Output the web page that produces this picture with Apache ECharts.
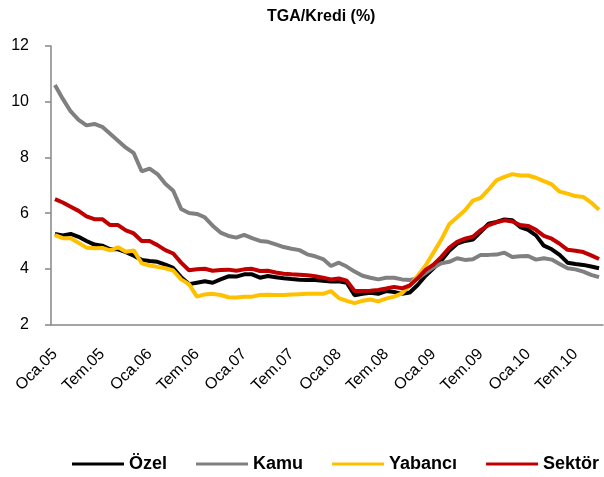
<!DOCTYPE html>
<html>
<head>
<meta charset="utf-8">
<script src="https://cdn.jsdelivr.net/npm/echarts@6/dist/echarts.min.js"></script>
<style>
html,body{margin:0;padding:0;background:#fff;}
#chart{width:604px;height:477px;}
</style>
</head>
<body>
<div id="chart"></div>
<script>
var categories = [
 'Oca.05','Şub.05','Mar.05','Nis.05','May.05','Haz.05','Tem.05','Ağu.05','Eyl.05','Eki.05','Kas.05','Ara.05',
 'Oca.06','Şub.06','Mar.06','Nis.06','May.06','Haz.06','Tem.06','Ağu.06','Eyl.06','Eki.06','Kas.06','Ara.06',
 'Oca.07','Şub.07','Mar.07','Nis.07','May.07','Haz.07','Tem.07','Ağu.07','Eyl.07','Eki.07','Kas.07','Ara.07',
 'Oca.08','Şub.08','Mar.08','Nis.08','May.08','Haz.08','Tem.08','Ağu.08','Eyl.08','Eki.08','Kas.08','Ara.08',
 'Oca.09','Şub.09','Mar.09','Nis.09','May.09','Haz.09','Tem.09','Ağu.09','Eyl.09','Eki.09','Kas.09','Ara.09',
 'Oca.10','Şub.10','Mar.10','Nis.10','May.10','Haz.10','Tem.10','Ağu.10','Eyl.10','Eki.10'
];
var ozel = [
 5.25,5.20,5.25,5.15,5.00,4.87,4.83,4.70,4.70,4.60,4.47,4.32,
 4.28,4.25,4.15,4.03,3.70,3.45,3.50,3.55,3.50,3.62,3.73,3.72,
 3.80,3.80,3.68,3.74,3.70,3.66,3.63,3.61,3.60,3.60,3.57,3.54,
 3.55,3.50,3.05,3.10,3.14,3.10,3.20,3.17,3.10,3.15,3.42,3.75,
 4.02,4.30,4.65,4.90,5.00,5.05,5.33,5.62,5.68,5.77,5.74,5.50,
 5.40,5.20,4.83,4.70,4.50,4.22,4.17,4.14,4.08,4.02
];
var kamu = [
 10.60,10.10,9.65,9.35,9.15,9.20,9.10,8.85,8.60,8.35,8.15,7.50,
 7.60,7.40,7.05,6.80,6.15,6.00,5.97,5.85,5.55,5.30,5.18,5.12,
 5.22,5.10,5.00,4.97,4.88,4.78,4.72,4.67,4.52,4.45,4.35,4.10,
 4.22,4.08,3.90,3.75,3.68,3.62,3.68,3.68,3.62,3.60,3.65,3.85,
 4.05,4.20,4.25,4.38,4.32,4.34,4.50,4.50,4.51,4.58,4.42,4.45,
 4.46,4.33,4.38,4.33,4.17,4.02,3.98,3.90,3.78,3.70
];
var yabanci = [
 5.21,5.10,5.10,4.93,4.76,4.74,4.75,4.66,4.77,4.61,4.66,4.20,
 4.12,4.07,4.02,3.94,3.62,3.45,3.00,3.08,3.10,3.06,2.98,2.97,
 3.00,3.00,3.06,3.07,3.06,3.06,3.08,3.09,3.10,3.10,3.10,3.20,
 2.95,2.85,2.77,2.85,2.90,2.83,2.93,3.00,3.12,3.40,3.75,4.12,
 4.58,5.05,5.60,5.85,6.10,6.45,6.55,6.85,7.18,7.30,7.40,7.35,
 7.35,7.27,7.15,7.03,6.77,6.70,6.61,6.58,6.38,6.12
];
var sektor = [
 6.50,6.38,6.23,6.08,5.88,5.78,5.78,5.57,5.57,5.38,5.27,5.00,
 5.00,4.85,4.67,4.55,4.22,3.95,3.98,4.00,3.93,3.96,3.97,3.93,
 3.98,4.00,3.92,3.93,3.87,3.82,3.80,3.79,3.77,3.73,3.68,3.62,
 3.65,3.57,3.20,3.20,3.21,3.24,3.29,3.35,3.30,3.40,3.66,3.96,
 4.15,4.43,4.75,4.97,5.08,5.15,5.39,5.57,5.67,5.74,5.70,5.57,
 5.54,5.40,5.18,5.08,4.90,4.68,4.65,4.60,4.48,4.35
];
var seriesNames = ['Özel','Kamu','Yabancı','Sektör'];
var seriesColors = ['#000000','#808080','#FFC000','#C00000'];
var seriesData = [ozel, kamu, yabanci, sektor];

var FONT = 'Liberation Sans, Arial, sans-serif';
var chart = echarts.init(document.getElementById('chart'), null, {renderer:'canvas'});
chart.setOption({
  animation: false,
  backgroundColor: '#ffffff',
  title: {
    text: 'TGA/Kredi (%)',
    left: 262, top: 4,
    textStyle: {fontFamily: FONT, fontWeight: 'bold', fontSize: 16, color: '#000'}
  },
  legend: {
    top: 455, left: 72, padding: 0,
    itemWidth: 52, itemHeight: 3, itemGap: 29,
    icon: 'rect',
    textStyle: {fontFamily: FONT, fontWeight: 'bold', fontSize: 18, color: '#000'},
    data: seriesNames
  },
  grid: {left: 51, right: 1, top: 46, bottom: 152.5, containLabel: false},
  xAxis: {
    type: 'category',
    data: categories,
    boundaryGap: true,
    axisLine: {lineStyle: {color: '#868686', width: 1.5}},
    axisTick: {interval: 5, length: 5, lineStyle: {color: '#868686', width: 1.5}},
    axisLabel: {interval: 5, rotate: 45, fontFamily: FONT, fontSize: 16, color: '#000', margin: 27}
  },
  yAxis: {
    type: 'value', min: 2, max: 12, interval: 2,
    axisLine: {show: true, lineStyle: {color: '#868686', width: 1.5}},
    axisTick: {show: true, length: 6, lineStyle: {color: '#868686', width: 1.5}},
    splitLine: {show: false},
    axisLabel: {fontFamily: FONT, fontSize: 16, color: '#000', margin: 22}
  },
  series: seriesNames.map(function(n, k){
    return {
      name: n, type: 'line', data: seriesData[k],
      showSymbol: false, symbol: 'none',
      lineStyle: {color: seriesColors[k], width: 4},
      itemStyle: {color: seriesColors[k]}
    };
  })
});
</script>
</body>
</html>
